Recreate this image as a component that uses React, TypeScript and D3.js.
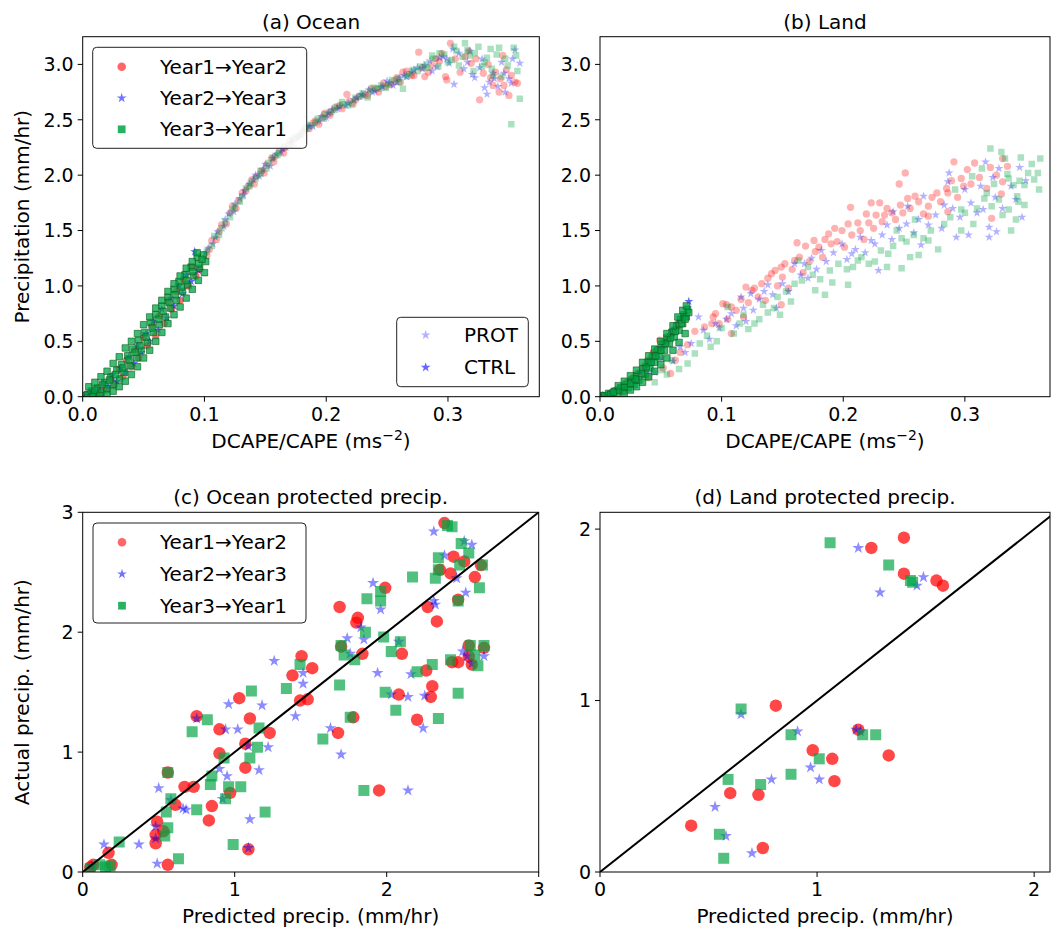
import * as d3 from "d3";

type Pt = [number, number];

// ---------- tick values ----------
const rateTicks = [0, 0.1, 0.2, 0.3];
const precipTicks = [0, 0.5, 1.0, 1.5, 2.0, 2.5, 3.0];
const oceanProtTicks = [0, 1, 2, 3];
const landProtTicks = [0, 1, 2];
const seriesNames = ["Year1\u2192Year2", "Year2\u2192Year3", "Year3\u2192Year1"];

// ---------- (a) ocean: DCAPE/CAPE vs precip ----------
const oceanProtRed: Pt[] = [
  [0.104, 1.33], [0.112, 1.49], [0.121, 1.66], [0.128, 1.77], [0.136, 1.9], [0.143, 1.99], [0.151, 2.09],
  [0.158, 2.17], [0.166, 2.25], [0.174, 2.33], [0.181, 2.39], [0.189, 2.47], [0.197, 2.52], [0.204, 2.57],
  [0.211, 2.63], [0.217, 2.73], [0.224, 2.68], [0.232, 2.73], [0.241, 2.78], [0.249, 2.8], [0.256, 2.85],
  [0.263, 2.93], [0.27, 2.9], [0.276, 3.11], [0.281, 2.89], [0.287, 2.99], [0.293, 3.03], [0.298, 2.89],
  [0.299, 2.86], [0.302, 3.19], [0.306, 3.05], [0.31, 2.93], [0.314, 3.07], [0.319, 3.01], [0.326, 2.68],
  [0.329, 2.92], [0.333, 3.0], [0.337, 2.81], [0.339, 2.93], [0.343, 2.87], [0.346, 2.81], [0.348, 2.95],
  [0.352, 2.9], [0.355, 2.84], [0.357, 2.83],
  [0.102, 1.27], [0.106, 1.41], [0.11, 1.42], [0.114, 1.55], [0.118, 1.56], [0.123, 1.72], [0.126, 1.7],
  [0.131, 1.84], [0.134, 1.86], [0.139, 1.96], [0.141, 1.92], [0.147, 2.04], [0.149, 2.02], [0.155, 2.15],
  [0.157, 2.12], [0.162, 2.23], [0.165, 2.2], [0.17, 2.31], [0.173, 2.28], [0.178, 2.36], [0.182, 2.41],
  [0.186, 2.42], [0.191, 2.49], [0.194, 2.46], [0.199, 2.56], [0.203, 2.54], [0.207, 2.61], [0.213, 2.6],
  [0.219, 2.67], [0.222, 2.64], [0.227, 2.71], [0.234, 2.72], [0.237, 2.78], [0.243, 2.75], [0.247, 2.83],
  [0.253, 2.82], [0.258, 2.88], [0.261, 2.84], [0.266, 2.94], [0.272, 2.9], [0.279, 2.97], [0.284, 2.93],
  [0.29, 3.05], [0.295, 3.1], [0.317, 3.12], [0.323, 3.05], [0.335, 2.88], [0.342, 2.75], [0.35, 2.72],
  [0.345, 3.08],
];
const oceanProtBlue: Pt[] = [
  [0.101, 1.3], [0.109, 1.44], [0.117, 1.6], [0.125, 1.74], [0.133, 1.86], [0.14, 1.96], [0.148, 2.05],
  [0.156, 2.15], [0.163, 2.21], [0.171, 2.3], [0.179, 2.36], [0.186, 2.44], [0.194, 2.49], [0.202, 2.56],
  [0.209, 2.6], [0.216, 2.63], [0.223, 2.68], [0.23, 2.72], [0.238, 2.75], [0.245, 2.79], [0.252, 2.83],
  [0.258, 2.84], [0.266, 2.89], [0.272, 2.95], [0.279, 2.96], [0.285, 3.03], [0.291, 2.98], [0.296, 3.07],
  [0.301, 3.01], [0.305, 2.82], [0.309, 3.1], [0.313, 2.96], [0.318, 3.12], [0.322, 2.88], [0.326, 2.97],
  [0.33, 2.79], [0.334, 2.84], [0.337, 2.92], [0.341, 2.8], [0.344, 3.02], [0.347, 2.75], [0.35, 2.87],
  [0.353, 3.05], [0.355, 3.13], [0.359, 3.01],
  [0.103, 1.34], [0.107, 1.38], [0.111, 1.49], [0.116, 1.54], [0.12, 1.65], [0.124, 1.67], [0.129, 1.79],
  [0.132, 1.82], [0.137, 1.92], [0.142, 2.0], [0.145, 1.99], [0.15, 2.1], [0.154, 2.08], [0.159, 2.19],
  [0.164, 2.24], [0.167, 2.25], [0.172, 2.33], [0.177, 2.34], [0.181, 2.4], [0.185, 2.45], [0.189, 2.44],
  [0.196, 2.53], [0.2, 2.52], [0.205, 2.59], [0.211, 2.62], [0.218, 2.65], [0.225, 2.7], [0.229, 2.73],
  [0.235, 2.77], [0.24, 2.76], [0.246, 2.8], [0.25, 2.85], [0.255, 2.81], [0.26, 2.88], [0.264, 2.9],
  [0.27, 2.93], [0.275, 2.97], [0.281, 2.99], [0.287, 2.94], [0.293, 3.06], [0.299, 3.05], [0.304, 3.14],
  [0.316, 3.02], [0.32, 2.91], [0.328, 3.05], [0.332, 2.73], [0.338, 2.87], [0.346, 2.92], [0.352, 2.83],
];
const oceanProtGreen: Pt[] = [
  [0.106, 1.36], [0.114, 1.52], [0.123, 1.69], [0.131, 1.81], [0.138, 1.93], [0.146, 2.04], [0.153, 2.11],
  [0.161, 2.2], [0.169, 2.28], [0.176, 2.34], [0.184, 2.42], [0.192, 2.48], [0.199, 2.55], [0.207, 2.59],
  [0.214, 2.64], [0.221, 2.65], [0.228, 2.71], [0.236, 2.76], [0.243, 2.78], [0.251, 2.82], [0.259, 2.87],
  [0.263, 2.78], [0.268, 2.91], [0.275, 2.94], [0.282, 3.0], [0.288, 3.05], [0.292, 2.98], [0.297, 3.09],
  [0.303, 3.04], [0.307, 3.12], [0.312, 3.07], [0.314, 3.19], [0.316, 3.13], [0.321, 2.94], [0.325, 3.16],
  [0.328, 2.98], [0.332, 3.06], [0.335, 3.14], [0.336, 2.96], [0.34, 3.09], [0.344, 2.89], [0.347, 3.05],
  [0.352, 2.46], [0.354, 3.15], [0.357, 2.94], [0.359, 2.69],
  [0.102, 1.31], [0.108, 1.45], [0.112, 1.46], [0.117, 1.58], [0.121, 1.62], [0.125, 1.71], [0.129, 1.76],
  [0.134, 1.88], [0.137, 1.9], [0.142, 1.97], [0.146, 2.01], [0.151, 2.06], [0.156, 2.16], [0.16, 2.18],
  [0.165, 2.26], [0.17, 2.28], [0.175, 2.35], [0.179, 2.37], [0.183, 2.43], [0.188, 2.45], [0.193, 2.51],
  [0.198, 2.51], [0.203, 2.57], [0.209, 2.62], [0.213, 2.66], [0.218, 2.63], [0.224, 2.7], [0.23, 2.74],
  [0.234, 2.7], [0.239, 2.79], [0.245, 2.81], [0.249, 2.79], [0.254, 2.86], [0.26, 2.84], [0.266, 2.89],
  [0.271, 2.95], [0.277, 2.98], [0.283, 2.97], [0.287, 3.08], [0.293, 3.1], [0.3, 3.02], [0.305, 3.16],
  [0.309, 2.99], [0.318, 3.08], [0.322, 3.1], [0.33, 3.02], [0.337, 2.9], [0.342, 3.15], [0.349, 2.99],
  [0.356, 3.08],
];
const oceanCtrlRed: Pt[] = [
  [0.003, 0.02], [0.008, 0.05], [0.012, 0.03], [0.016, 0.1], [0.019, 0.06], [0.023, 0.16], [0.026, 0.11],
  [0.03, 0.25], [0.033, 0.18], [0.036, 0.33], [0.04, 0.27], [0.043, 0.42], [0.046, 0.35], [0.05, 0.53],
  [0.053, 0.46], [0.057, 0.64], [0.06, 0.55], [0.063, 0.73], [0.067, 0.66], [0.07, 0.86], [0.073, 0.79],
  [0.077, 0.95], [0.08, 0.87], [0.083, 1.06], [0.087, 1.0], [0.09, 1.17], [0.093, 1.09], [0.096, 1.15],
];
const oceanCtrlBlue: Pt[] = [
  [0.002, 0.01], [0.006, 0.04], [0.01, 0.07], [0.014, 0.05], [0.017, 0.12], [0.021, 0.09], [0.024, 0.19],
  [0.028, 0.14], [0.031, 0.26], [0.035, 0.22], [0.038, 0.36], [0.042, 0.3], [0.045, 0.46], [0.048, 0.4],
  [0.052, 0.57], [0.055, 0.5], [0.058, 0.68], [0.062, 0.6], [0.065, 0.79], [0.069, 0.71], [0.072, 0.89],
  [0.075, 0.82], [0.079, 1.0], [0.082, 0.93], [0.085, 1.1], [0.089, 1.04], [0.092, 1.31], [0.095, 1.14],
];
const oceanCtrlGreen: Pt[] = [
  [0.001, 0.01], [0.004, 0.02], [0.007, 0.05], [0.009, 0.02], [0.012, 0.08], [0.015, 0.04], [0.018, 0.13],
  [0.02, 0.07], [0.023, 0.18], [0.025, 0.11], [0.028, 0.24], [0.03, 0.16], [0.032, 0.29], [0.034, 0.22],
  [0.037, 0.37], [0.039, 0.28], [0.041, 0.43], [0.044, 0.35], [0.046, 0.51], [0.048, 0.42], [0.051, 0.58],
  [0.053, 0.49], [0.056, 0.67], [0.058, 0.58], [0.06, 0.74], [0.063, 0.65], [0.065, 0.82], [0.068, 0.72],
  [0.07, 0.9], [0.072, 0.8], [0.075, 0.97], [0.077, 0.87], [0.079, 1.04], [0.082, 0.95], [0.084, 1.1],
  [0.086, 1.01], [0.089, 1.17], [0.091, 1.09], [0.094, 1.26], [0.096, 1.16], [0.099, 1.28], [0.101, 1.22],
  [0.01, 0.06], [0.016, 0.11], [0.022, 0.15], [0.027, 0.2], [0.033, 0.26], [0.038, 0.33], [0.043, 0.4],
  [0.047, 0.46], [0.052, 0.54], [0.057, 0.62], [0.062, 0.7], [0.066, 0.77], [0.071, 0.85], [0.076, 0.92],
  [0.081, 0.99], [0.085, 1.05], [0.09, 1.13], [0.095, 1.2], [0.098, 1.24],
  [0.005, 0.09], [0.01, 0.13], [0.015, 0.18], [0.02, 0.23], [0.025, 0.3], [0.03, 0.36], [0.035, 0.44],
  [0.04, 0.5], [0.045, 0.57], [0.05, 0.65], [0.055, 0.72], [0.06, 0.8], [0.065, 0.87], [0.07, 0.95],
  [0.075, 1.02], [0.08, 1.09], [0.085, 1.16], [0.09, 1.22], [0.094, 1.3],
  [0.008, 0.0], [0.014, 0.01], [0.02, 0.02], [0.025, 0.05], [0.03, 0.09], [0.035, 0.14], [0.04, 0.2],
  [0.045, 0.27], [0.05, 0.35], [0.055, 0.42], [0.06, 0.5], [0.065, 0.58], [0.07, 0.66], [0.075, 0.74],
  [0.08, 0.81], [0.085, 0.89], [0.09, 0.97], [0.095, 1.05], [0.1, 1.12],
];

// ---------- (b) land: DCAPE/CAPE vs precip ----------
const landProtRed: Pt[] = [
  [0.291, 2.12], [0.251, 2.02], [0.246, 1.92], [0.308, 2.11], [0.331, 2.15], [0.321, 2.07], [0.331, 1.94],
  [0.33, 1.83], [0.322, 1.61], [0.302, 2.05], [0.297, 1.97], [0.286, 1.84], [0.206, 1.71], [0.223, 1.75],
  [0.23, 1.75], [0.219, 1.65], [0.227, 1.64], [0.234, 1.64], [0.24, 1.66], [0.247, 1.73], [0.253, 1.79],
  [0.259, 1.81], [0.27, 1.72], [0.277, 1.84], [0.285, 1.88], [0.193, 1.52], [0.199, 1.5], [0.204, 1.56],
  [0.212, 1.57], [0.221, 1.57], [0.185, 1.42], [0.19, 1.38], [0.176, 1.41], [0.162, 1.39], [0.169, 1.36],
  [0.177, 1.31], [0.152, 1.2], [0.16, 1.23], [0.144, 1.14], [0.138, 1.07], [0.127, 0.98], [0.12, 0.99],
  [0.108, 0.81], [0.101, 0.84], [0.093, 0.72], [0.086, 0.63], [0.078, 0.59], [0.108, 0.57], [0.092, 0.66],
  [0.056, 0.51], [0.062, 0.33], [0.049, 0.51], [0.149, 0.83], [0.286, 1.67], [0.27, 1.63], [0.299, 1.9],
  [0.104, 0.83], [0.125, 0.96], [0.141, 1.11], [0.149, 1.17], [0.066, 0.4], [0.072, 0.47],
  [0.095, 0.75], [0.098, 0.66], [0.105, 0.7], [0.112, 0.78], [0.116, 0.88], [0.118, 0.72], [0.122, 0.85],
  [0.13, 0.9], [0.133, 1.02], [0.136, 0.87], [0.146, 1.0], [0.15, 1.08], [0.155, 0.98], [0.158, 1.15],
  [0.164, 1.26], [0.167, 1.12], [0.172, 1.22], [0.18, 1.35], [0.183, 1.26], [0.188, 1.47], [0.195, 1.4],
  [0.201, 1.35], [0.207, 1.46], [0.214, 1.5], [0.217, 1.42], [0.225, 1.52], [0.232, 1.58], [0.236, 1.7],
  [0.243, 1.6], [0.249, 1.66], [0.255, 1.7], [0.262, 1.76], [0.266, 1.65], [0.273, 1.8], [0.28, 1.76],
  [0.289, 1.95], [0.294, 1.8], [0.305, 1.92], [0.312, 1.98], [0.318, 1.88], [0.326, 2.0], [0.335, 2.08],
  [0.04, 0.17], [0.052, 0.26], [0.058, 0.21],
];
const landProtBlue: Pt[] = [
  [0.317, 2.12], [0.328, 2.06], [0.345, 2.07], [0.347, 1.62], [0.323, 1.98], [0.287, 2.02], [0.286, 1.94],
  [0.3, 1.87], [0.32, 1.53], [0.32, 1.44], [0.326, 1.49], [0.303, 1.46], [0.293, 1.44], [0.315, 1.69],
  [0.283, 1.73], [0.266, 1.81], [0.253, 1.72], [0.252, 1.56], [0.264, 1.37], [0.236, 1.55], [0.241, 1.67],
  [0.223, 1.41], [0.229, 1.14], [0.214, 1.44], [0.207, 1.29], [0.199, 1.38], [0.182, 1.32], [0.174, 1.25],
  [0.171, 1.07], [0.16, 1.2], [0.145, 0.8], [0.138, 1.01], [0.124, 0.93], [0.116, 0.9], [0.108, 0.75],
  [0.12, 0.68], [0.095, 0.66], [0.081, 0.72], [0.075, 0.48], [0.066, 0.45], [0.051, 0.35], [0.04, 0.21],
  [0.029, 0.15],
  [0.085, 0.6], [0.09, 0.52], [0.098, 0.62], [0.104, 0.7], [0.112, 0.64], [0.118, 0.8], [0.126, 0.78],
  [0.131, 0.88], [0.135, 0.95], [0.142, 0.92], [0.15, 1.02], [0.155, 0.95], [0.165, 1.1], [0.168, 1.2],
  [0.178, 1.15], [0.186, 1.22], [0.192, 1.3], [0.203, 1.24], [0.21, 1.33], [0.218, 1.3], [0.226, 1.38],
  [0.232, 1.46], [0.24, 1.42], [0.246, 1.52], [0.258, 1.48], [0.262, 1.6], [0.27, 1.55], [0.276, 1.64],
  [0.281, 1.52], [0.29, 1.7], [0.296, 1.62], [0.305, 1.75], [0.31, 1.66], [0.313, 1.9], [0.325, 1.8],
  [0.331, 1.7], [0.338, 1.9], [0.342, 1.78], [0.35, 1.95], [0.045, 0.22], [0.06, 0.32], [0.07, 0.4],
];
const landProtGreen: Pt[] = [
  [0.321, 2.24], [0.33, 2.21], [0.333, 2.15], [0.346, 2.16], [0.352, 2.02], [0.36, 2.02], [0.357, 1.96],
  [0.361, 1.87], [0.349, 1.91], [0.34, 1.91], [0.335, 2.01], [0.336, 1.97], [0.343, 1.81], [0.344, 1.76],
  [0.349, 1.73], [0.336, 1.69], [0.331, 1.64], [0.342, 1.6], [0.338, 1.5], [0.324, 1.92], [0.314, 2.06],
  [0.306, 1.99], [0.316, 1.79], [0.322, 1.72], [0.292, 1.87], [0.297, 1.69], [0.307, 1.56], [0.297, 1.5],
  [0.278, 1.33], [0.27, 1.41], [0.262, 1.28], [0.255, 1.26], [0.259, 1.6], [0.244, 1.5], [0.248, 1.43],
  [0.237, 1.29], [0.248, 1.16], [0.236, 1.17], [0.221, 1.2], [0.212, 1.23], [0.203, 1.15], [0.204, 1.01],
  [0.191, 1.03], [0.185, 0.92], [0.177, 0.96], [0.163, 1.23], [0.171, 1.17], [0.157, 0.86], [0.148, 0.74],
  [0.138, 0.76], [0.127, 0.66], [0.122, 0.61], [0.11, 0.57], [0.105, 0.81], [0.091, 0.45], [0.078, 0.39],
  [0.059, 0.33], [0.051, 0.24], [0.038, 0.17],
  [0.082, 0.48], [0.088, 0.55], [0.096, 0.5], [0.1, 0.62], [0.115, 0.66], [0.118, 0.74], [0.131, 0.7],
  [0.134, 0.83], [0.143, 0.8], [0.146, 0.9], [0.153, 0.95], [0.16, 1.02], [0.166, 1.05], [0.175, 1.1],
  [0.181, 1.06], [0.189, 1.14], [0.196, 1.2], [0.208, 1.17], [0.215, 1.26], [0.226, 1.22], [0.231, 1.32],
  [0.241, 1.36], [0.252, 1.4], [0.258, 1.46], [0.266, 1.43], [0.272, 1.5], [0.283, 1.56], [0.288, 1.62],
  [0.3, 1.66], [0.31, 1.7], [0.318, 1.84], [0.328, 1.78], [0.345, 1.95], [0.355, 2.1], [0.362, 2.15],
  [0.045, 0.13], [0.055, 0.2], [0.065, 0.25], [0.072, 0.3],
];
const landCtrlRed: Pt[] = [
  [0.003, 0.01], [0.008, 0.03], [0.013, 0.06], [0.018, 0.09], [0.022, 0.13], [0.027, 0.17], [0.031, 0.21],
  [0.036, 0.27], [0.04, 0.33], [0.044, 0.4], [0.048, 0.43], [0.052, 0.49], [0.056, 0.54], [0.06, 0.6],
  [0.064, 0.66], [0.068, 0.71],
];
const landCtrlBlue: Pt[] = [
  [0.002, 0.01], [0.006, 0.02], [0.01, 0.04], [0.015, 0.07], [0.02, 0.1], [0.025, 0.14], [0.029, 0.18],
  [0.033, 0.22], [0.038, 0.28], [0.042, 0.33], [0.046, 0.38], [0.05, 0.44], [0.054, 0.5], [0.058, 0.56],
  [0.062, 0.62], [0.066, 0.68], [0.069, 0.73], [0.073, 0.86],
];
const landCtrlGreen: Pt[] = [
  [0.001, 0.01], [0.004, 0.01], [0.007, 0.03], [0.009, 0.02], [0.012, 0.05], [0.014, 0.03], [0.017, 0.08],
  [0.019, 0.05], [0.021, 0.11], [0.023, 0.08], [0.026, 0.15], [0.028, 0.11], [0.03, 0.19], [0.032, 0.15],
  [0.035, 0.25], [0.037, 0.2], [0.039, 0.31], [0.041, 0.26], [0.043, 0.36], [0.045, 0.31], [0.047, 0.42],
  [0.049, 0.36], [0.051, 0.47], [0.053, 0.42], [0.055, 0.53], [0.057, 0.48], [0.059, 0.58], [0.061, 0.54],
  [0.063, 0.64], [0.065, 0.6], [0.066, 0.7], [0.068, 0.66], [0.069, 0.74], [0.071, 0.72], [0.072, 0.79],
  [0.073, 0.76],
  [0.011, 0.04], [0.016, 0.06], [0.02, 0.09], [0.025, 0.12], [0.029, 0.16], [0.034, 0.21], [0.038, 0.27],
  [0.042, 0.31], [0.046, 0.37], [0.05, 0.42], [0.054, 0.48], [0.058, 0.53], [0.062, 0.59], [0.067, 0.66],
  [0.07, 0.7],
  [0.02, 0.03], [0.025, 0.06], [0.03, 0.09], [0.035, 0.13], [0.04, 0.18], [0.045, 0.23], [0.05, 0.29],
  [0.055, 0.35], [0.06, 0.42], [0.065, 0.49], [0.07, 0.57],
  [0.015, 0.1], [0.02, 0.14], [0.025, 0.19], [0.03, 0.24], [0.035, 0.31], [0.04, 0.37], [0.045, 0.43],
  [0.05, 0.5], [0.055, 0.57], [0.06, 0.64], [0.064, 0.72], [0.068, 0.78], [0.071, 0.82],
];

// ---------- (c) ocean protected precip: predicted vs actual ----------
const oceanPredRed: Pt[] = [
  [2.38, 2.91], [1.99, 2.37], [1.69, 2.21], [1.81, 2.12], [1.8, 2.08], [2.27, 2.21], [2.33, 2.09], [2.47, 2.27],
  [2.44, 2.63], [2.42, 2.49], [2.58, 2.46], [2.62, 2.56], [2.35, 2.52], [2.51, 2.59], [1.44, 1.8], [1.51, 1.7],
  [1.38, 1.64], [1.43, 1.43], [1.48, 1.44], [1.7, 1.88], [1.84, 1.82], [2.1, 1.82], [1.78, 1.29], [1.68, 1.16],
  [1.03, 1.45], [0.75, 1.3], [0.9, 1.19], [1.1, 1.28], [1.23, 1.16], [1.07, 1.07], [0.9, 0.99], [1.07, 0.87],
  [0.97, 0.66], [0.85, 0.55], [0.83, 0.43], [0.67, 0.71], [0.73, 0.71], [0.56, 0.83], [0.61, 0.56], [0.49, 0.42],
  [0.48, 0.31], [0.48, 0.24], [0.56, 0.06], [1.09, 0.19], [1.95, 0.68], [2.08, 1.48], [2.26, 1.68], [2.3, 1.55],
  [2.29, 1.46], [2.2, 1.27], [2.43, 1.75], [2.47, 1.75], [2.54, 1.89], [2.64, 1.87], [2.54, 1.8], [2.56, 1.73],
  [0.17, 0.16], [0.19, 0.06], [0.07, 0.06], [0.05, 0.04], [0.53, 0.34],
];
const oceanPredBlue: Pt[] = [
  [2.31, 2.84], [1.91, 2.41], [1.96, 2.19], [2.31, 2.26], [2.32, 2.23], [2.52, 2.33], [2.51, 2.76], [2.56, 2.73],
  [2.38, 2.64], [2.46, 2.45], [1.83, 2.04], [1.85, 1.94], [1.74, 1.95], [1.76, 1.82], [2.08, 1.92], [1.26, 1.76],
  [1.45, 1.66], [1.45, 1.57], [1.18, 1.39], [0.96, 1.4], [1.02, 1.19], [0.94, 1.19], [0.75, 1.28], [1.4, 1.3],
  [1.22, 1.04], [1.16, 0.85], [0.9, 0.86], [0.95, 0.8], [0.92, 0.61], [0.5, 0.7], [0.66, 0.53], [0.68, 0.52],
  [1.1, 0.44], [1.09, 0.2], [1.63, 1.2], [1.7, 0.98], [1.94, 1.66], [2.16, 1.65], [2.03, 1.48], [2.14, 1.46],
  [2.25, 1.47], [2.24, 1.2], [2.14, 0.68], [2.5, 1.84], [2.53, 1.8], [2.64, 1.8], [2.56, 1.74], [0.14, 0.23],
  [0.37, 0.23], [0.49, 0.07], [0.48, 0.38], [0.48, 0.28], [0.06, 0.05], [0.58, 0.6], [1.09, 1.05],
];
const oceanPredGreen: Pt[] = [
  [2.43, 2.88], [2.4, 2.89], [2.49, 2.74], [2.54, 2.66], [2.34, 2.62], [2.48, 2.56], [2.63, 2.56], [2.34, 2.52],
  [2.32, 2.45], [2.61, 2.37], [2.47, 2.26], [2.17, 2.46], [1.96, 2.34], [1.96, 2.26], [1.87, 2.28], [1.86, 2.0],
  [1.98, 1.96], [2.03, 1.84], [2.09, 1.92], [1.7, 1.89], [1.72, 1.81], [1.79, 1.77], [1.43, 1.73], [1.34, 1.53],
  [1.69, 1.56], [1.11, 1.51], [1.16, 1.2], [0.82, 1.27], [0.72, 1.17], [1.15, 1.04], [1.1, 0.95], [0.93, 0.95],
  [0.85, 0.8], [0.84, 0.73], [0.96, 0.71], [1.04, 0.71], [0.94, 0.61], [0.75, 0.52], [0.56, 0.83], [0.58, 0.61],
  [0.55, 0.5], [0.56, 0.37], [0.54, 0.3], [1.2, 0.5], [0.99, 0.23], [0.63, 0.11], [0.24, 0.25], [0.11, 0.06],
  [0.18, 0.05], [1.58, 1.11], [1.76, 1.29], [1.85, 0.68], [1.99, 1.5], [2.06, 1.35], [2.2, 1.67], [2.3, 1.73],
  [2.34, 1.28], [2.47, 1.49], [2.42, 1.77], [2.55, 1.89], [2.64, 1.89], [2.6, 1.72], [2.58, 1.81], [0.05, 0.03],
  [0.15, 0.04],
];

// ---------- (d) land protected precip: predicted vs actual ----------
const landPredRed: Pt[] = [
  [1.4, 1.95], [1.25, 1.89], [1.4, 1.74], [1.55, 1.7], [1.58, 1.67], [0.81, 0.97], [1.19, 0.83], [0.98, 0.71],
  [1.07, 0.66], [1.33, 0.68], [1.08, 0.53], [0.6, 0.46], [0.73, 0.45], [0.42, 0.27], [0.75, 0.14],
];
const landPredBlue: Pt[] = [
  [1.19, 1.89], [1.49, 1.72], [1.46, 1.67], [1.29, 1.63], [0.65, 0.92], [0.91, 0.82], [1.18, 0.83], [1.2, 0.82],
  [0.97, 0.61], [1.01, 0.54], [0.79, 0.54], [0.53, 0.38], [0.58, 0.21], [0.7, 0.11],
];
const landPredGreen: Pt[] = [
  [1.06, 1.92], [1.33, 1.79], [1.43, 1.7], [1.44, 1.69], [0.65, 0.95], [0.88, 0.8], [1.21, 0.8], [1.27, 0.8],
  [1.01, 0.66], [0.88, 0.57], [0.74, 0.51], [0.59, 0.54], [0.55, 0.22], [0.57, 0.08],
];

const FONT = "DejaVu Sans, Verdana, sans-serif";
const RED = "#ff0000";
const BLUE = "#0000ff";
const GREEN = "#00a444";

type Kind = "circle" | "star" | "square";
const symbolTypes = { circle: d3.symbolCircle, star: d3.symbolStar, square: d3.symbolSquare };

// marker areas (px^2) for d3.symbol
const small = { circle: 42, star: 25, square: 42 };
const big = { circle: 122, star: 44, square: 121 };
const legendSize = { circle: 58, star: 30, square: 60 };

function marker(kind: Kind, size: number) {
  return d3.symbol().type(symbolTypes[kind]).size(size)() as string;
}

interface Layer {
  pts: Pt[];
  kind: Kind;
  color: string;
  opacity: number;
  stroke?: string;
}

interface PanelProps {
  id: string;
  left: number;
  right: number;
  top: number;
  bottom: number;
  xDomain: [number, number];
  yDomain: [number, number];
  xTicks: number[];
  yTicks: number[];
  xFmt: (v: number) => string;
  yFmt: (v: number) => string;
  title: string;
  xLabel: React.ReactNode;
  yLabel?: string;
  layers: Layer[];
  sizes: Record<Kind, number>;
  diagonal?: boolean;
}

function Panel(p: PanelProps) {
  const x = d3.scaleLinear().domain(p.xDomain).range([p.left, p.right]);
  const y = d3.scaleLinear().domain(p.yDomain).range([p.bottom, p.top]);
  const cx = (p.left + p.right) / 2;
  const cy = (p.top + p.bottom) / 2;
  const diag = d3.line<number>().x((v) => x(v)).y((v) => y(v));

  return (
    <g>
      <clipPath id={p.id}>
        <rect x={p.left} y={p.top} width={p.right - p.left} height={p.bottom - p.top} />
      </clipPath>

      <g clipPath={`url(#${p.id})`}>
        {p.layers.map((l, li) => {
          const d = marker(l.kind, p.sizes[l.kind]);
          return (
            <g key={li} fill={l.color} fillOpacity={l.opacity} stroke={l.stroke ?? "none"} strokeWidth={0.6}>
              {l.pts.map((pt, i) => (
                <path key={i} d={d} transform={`translate(${x(pt[0])},${y(pt[1])})`} />
              ))}
            </g>
          );
        })}
        {p.diagonal && (
          <path d={diag([0, Math.max(p.xDomain[1], p.yDomain[1])]) as string} stroke="#000" strokeWidth={2} fill="none" />
        )}
      </g>

      {/* frame */}
      <rect x={p.left} y={p.top} width={p.right - p.left} height={p.bottom - p.top} fill="none" stroke="#000" strokeWidth={1} />

      {/* x ticks */}
      {p.xTicks.map((t, i) => (
        <g key={i}>
          <line x1={x(t)} x2={x(t)} y1={p.bottom} y2={p.bottom + 5} stroke="#000" strokeWidth={1} />
          <text x={x(t)} y={p.bottom + 24} textAnchor="middle" fontSize={19} fontFamily={FONT} fill="#000">
            {p.xFmt(t)}
          </text>
        </g>
      ))}

      {/* y ticks */}
      {p.yTicks.map((t, i) => (
        <g key={i}>
          <line x1={p.left - 5} x2={p.left} y1={y(t)} y2={y(t)} stroke="#000" strokeWidth={1} />
          <text x={p.left - 9} y={y(t)} dy="0.36em" textAnchor="end" fontSize={19} fontFamily={FONT} fill="#000">
            {p.yFmt(t)}
          </text>
        </g>
      ))}

      <text x={cx} y={p.top - 8} textAnchor="middle" fontSize={20} fontFamily={FONT} fill="#000">
        {p.title}
      </text>
      <text x={cx} y={p.bottom + 51} textAnchor="middle" fontSize={20} fontFamily={FONT} fill="#000">
        {p.xLabel}
      </text>
      {p.yLabel && (
        <text
          transform={`translate(${p.left - 54},${cy}) rotate(-90)`}
          textAnchor="middle"
          fontSize={20}
          fontFamily={FONT}
          fill="#000"
        >
          {p.yLabel}
        </text>
      )}
    </g>
  );
}

function Legend({ x, y, w, h, rows, textX }: {
  x: number; y: number; w: number; h: number; textX: number;
  rows: { label: string; kind: Kind; color: string; opacity: number; cy: number }[];
}) {
  return (
    <g>
      <rect x={x} y={y} width={w} height={h} rx={4} fill="#fff" fillOpacity={0.9} stroke="#222" strokeWidth={1} />
      {rows.map((r, i) => (
        <g key={i}>
          <path
            d={marker(r.kind, legendSize[r.kind])}
            transform={`translate(${x + 29},${r.cy})`}
            fill={r.color}
            fillOpacity={r.opacity}
          />
          <text x={textX} y={r.cy + 7} fontSize={20} fontFamily={FONT} fill="#000">
            {r.label}
          </text>
        </g>
      ))}
    </g>
  );
}

const f1 = (v: number) => v.toFixed(1);
const f0 = (v: number) => v.toFixed(0);

const PROT_A = 0.3;

function scatterLayers(
  protR: Pt[], protB: Pt[], protG: Pt[], ctrlR: Pt[], ctrlB: Pt[], ctrlG: Pt[]
): Layer[] {
  return [
    { pts: protR, kind: "circle", color: RED, opacity: PROT_A },
    { pts: protB, kind: "star", color: BLUE, opacity: PROT_A },
    { pts: protG, kind: "square", color: GREEN, opacity: 0.33 },
    { pts: ctrlR, kind: "circle", color: RED, opacity: 0.55 },
    { pts: ctrlB, kind: "star", color: BLUE, opacity: 0.6 },
    { pts: ctrlG, kind: "square", color: GREEN, opacity: 0.75, stroke: "#0b5d1e" },
  ];
}

function predLayers(r: Pt[], b: Pt[], g: Pt[]): Layer[] {
  return [
    { pts: r, kind: "circle", color: RED, opacity: 0.72 },
    { pts: b, kind: "star", color: BLUE, opacity: 0.45 },
    { pts: g, kind: "square", color: GREEN, opacity: 0.68 },
  ];
}

const rateLabel = (
  <>
    DCAPE/CAPE (ms
    <tspan dy={-8} fontSize={14}>{"\u22122"}</tspan>
    <tspan dy={8}>)</tspan>
  </>
);

export default function App() {
  const seriesRows = (y0: number, step: number) => [
    { label: seriesNames[0], kind: "circle" as Kind, color: RED, opacity: 0.6, cy: y0 },
    { label: seriesNames[1], kind: "star" as Kind, color: BLUE, opacity: 0.55, cy: y0 + step },
    { label: seriesNames[2], kind: "square" as Kind, color: GREEN, opacity: 0.85, cy: y0 + 2 * step },
  ];

  return (
    <svg
      width={1051}
      height={933}
      style={{ position: "absolute", left: 0, top: 0, background: "#fff" }}
    >
      <Panel
        id="clipA"
        left={82.7} right={539.3} top={36.7} bottom={396.7}
        xDomain={[0, 0.375]} yDomain={[0, 3.25]}
        xTicks={rateTicks} yTicks={precipTicks} xFmt={f1} yFmt={f1}
        title="(a) Ocean" xLabel={rateLabel} yLabel="Precipitation (mm/hr)"
        layers={scatterLayers(oceanProtRed, oceanProtBlue, oceanProtGreen, oceanCtrlRed, oceanCtrlBlue, oceanCtrlGreen)}
        sizes={small}
      />
      <Panel
        id="clipB"
        left={600} right={1050} top={36.7} bottom={396.7}
        xDomain={[0, 0.37]} yDomain={[0, 3.25]}
        xTicks={rateTicks} yTicks={precipTicks} xFmt={f1} yFmt={f1}
        title="(b) Land" xLabel={rateLabel}
        layers={scatterLayers(landProtRed, landProtBlue, landProtGreen, landCtrlRed, landCtrlBlue, landCtrlGreen)}
        sizes={small}
      />
      <Panel
        id="clipC"
        left={82.7} right={538.7} top={512.3} bottom={872}
        xDomain={[0, 3]} yDomain={[0, 3]}
        xTicks={oceanProtTicks} yTicks={oceanProtTicks} xFmt={f0} yFmt={f0}
        title="(c) Ocean protected precip." xLabel="Predicted precip. (mm/hr)" yLabel="Actual precip. (mm/hr)"
        layers={predLayers(oceanPredRed, oceanPredBlue, oceanPredGreen)}
        sizes={big}
        diagonal
      />
      <Panel
        id="clipD"
        left={600} right={1050} top={512.3} bottom={872}
        xDomain={[0, 2.073]} yDomain={[0, 2.098]}
        xTicks={landProtTicks} yTicks={landProtTicks} xFmt={f0} yFmt={f0}
        title="(d) Land protected precip." xLabel="Predicted precip. (mm/hr)"
        layers={predLayers(landPredRed, landPredBlue, landPredGreen)}
        sizes={big}
        diagonal
      />

      <Legend x={92.7} y={47.3} w={214} h={101} textX={160} rows={seriesRows(66.7, 31.3)} />
      <Legend
        x={396.7} y={317.3} w={131.6} h={69.4} textX={464}
        rows={[
          { label: "PROT", kind: "star", color: BLUE, opacity: 0.3, cy: 335 },
          { label: "CTRL", kind: "star", color: BLUE, opacity: 0.6, cy: 367.3 },
        ]}
      />
      <Legend x={93} y={523} w={213} h={100} textX={160} rows={seriesRows(542.3, 31.7)} />
    </svg>
  );
}
